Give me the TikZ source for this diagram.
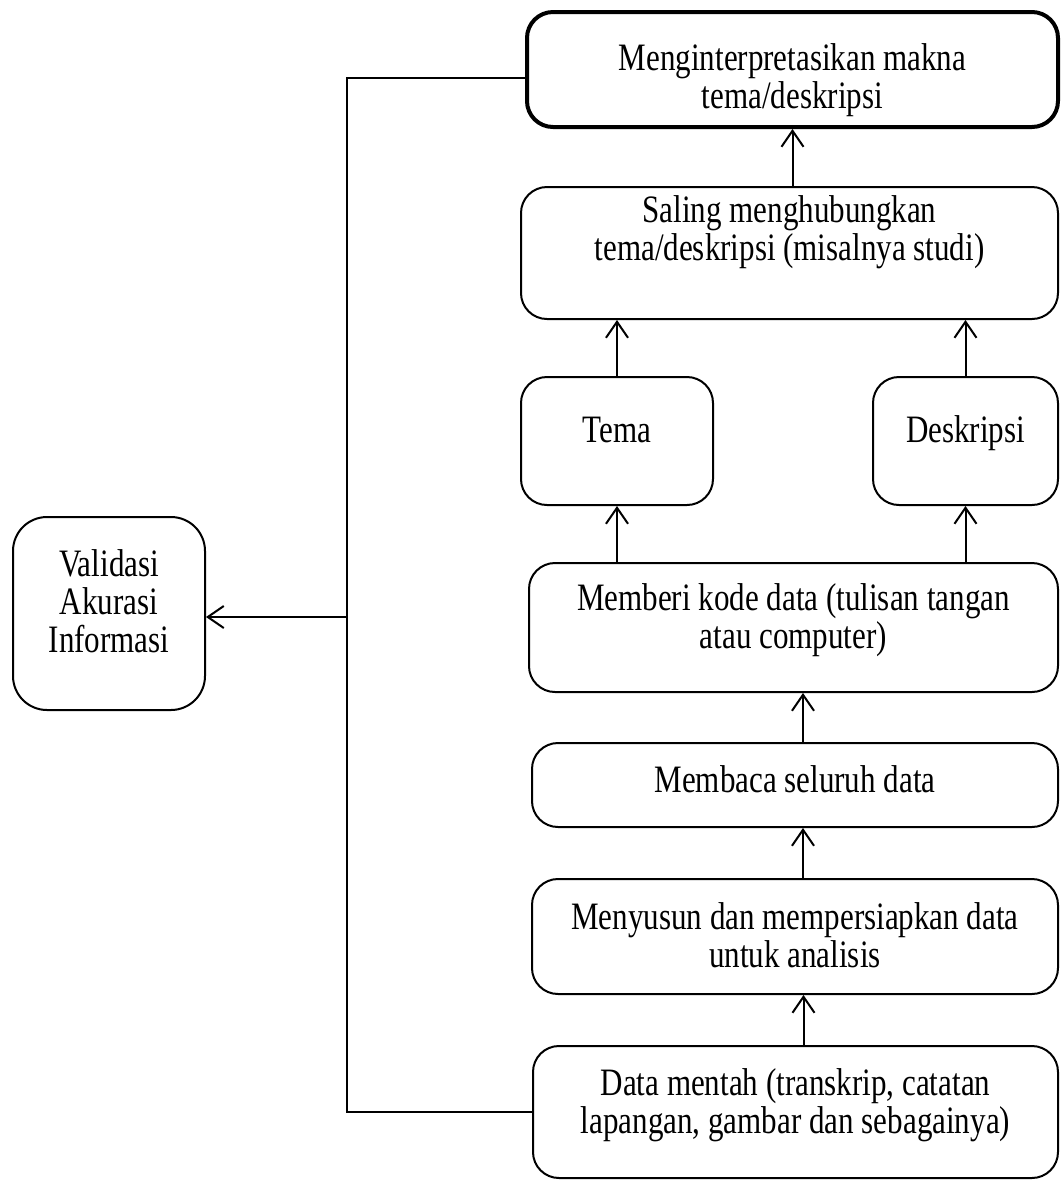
\documentclass[tikz,border=0pt]{standalone}
\usepackage{fontspec}
\setmainfont[FakeStretch=0.8]{Liberation Serif}
\usetikzlibrary{arrows.meta}

\begin{document}
\begin{tikzpicture}[x=0.5pt,y=-0.5pt,
  box/.style={draw, line width=1pt, rounded corners=13pt, inner sep=0pt},
  txt/.style={align=center, inner sep=0pt, font=\fontsize{19.4}{19}\selectfont},
  arr/.style={line width=1pt, -{Straight Barb[length=8pt,width=11pt]}},
  link/.style={line width=1pt}]

  \useasboundingbox (0,0) rectangle (1061,1180);

  % Boxes
  \node[box, line width=2pt, minimum width=265.5pt, minimum height=57.5pt] (interp) at (792.5,69.5) {};
  \node[box, minimum width=268.5pt, minimum height=66pt] (saling) at (789.5,253) {};
  \node[box, minimum width=96pt, minimum height=64pt] (tema) at (617,441) {};
  \node[box, minimum width=92.5pt, minimum height=64pt] (desk) at (965.5,441) {};
  \node[box, minimum width=264.5pt, minimum height=64.5pt] (kode) at (793.5,627.5) {};
  \node[box, minimum width=263pt, minimum height=42pt] (baca) at (795,785) {};
  \node[box, minimum width=263pt, minimum height=57.5pt] (susun) at (795,936.5) {};
  \node[box, minimum width=262.5pt, minimum height=66pt] (mentah) at (795.5,1112) {};
  \node[box, rounded corners=17pt, minimum width=96pt, minimum height=96.5pt] (valid) at (109,613.5) {};

  % Texts
  \node[txt] (interp-t) at (792.5,80) {Menginterpretasikan makna\\tema/deskripsi};
  \node[txt] (saling-t) at (789.5,232) {Saling menghubungkan\\tema/deskripsi (misalnya studi)};
  \node[txt, anchor=base] (tema-t) at (617,442) {Tema};
  \node[txt, anchor=base] (desk-t) at (965.5,442) {Deskripsi};
  \node[txt] (kode-t) at (793.5,620) {Memberi kode data (tulisan tangan\\atau computer)};
  \node[txt] (baca-t) at (795,779) {Membaca seluruh data};
  \node[txt] (susun-t) at (795,935) {Menyusun dan mempersiapkan data\\untuk analisis};
  \node[txt] (mentah-t) at (795.5,1105) {Data mentah (transkrip, catatan\\lapangan, gambar dan sebagainya)};
  \node[txt] (valid-t) at (109,601) {Validasi\\Akurasi\\Informasi};

  % Upward flow
  \draw[arr] ([xshift=4pt]mentah.north) -- ([xshift=4pt]mentah.north |- susun.south);
  \draw[arr] ([xshift=4pt]susun.north) -- ([xshift=4pt]susun.north |- baca.south);
  \draw[arr] ([xshift=4pt]baca.north) -- ([xshift=4pt]baca.north |- kode.south);
  \draw[arr] (kode.north -| tema) -- (tema.south);
  \draw[arr] (kode.north -| desk) -- (desk.south);
  \draw[arr] (tema.north) -- (tema.north |- saling.south);
  \draw[arr] (desk.north) -- (desk.north |- saling.south);
  \draw[arr] (saling.north -| interp) -- (interp.south);

  % Validation loop
  \coordinate (fb) at (347,617);
  \draw[link] ([yshift=-4pt]interp.west) -| (fb) |- (mentah.west);
  \draw[arr] (fb) -- (valid.east |- fb);

\end{tikzpicture}
\end{document}
